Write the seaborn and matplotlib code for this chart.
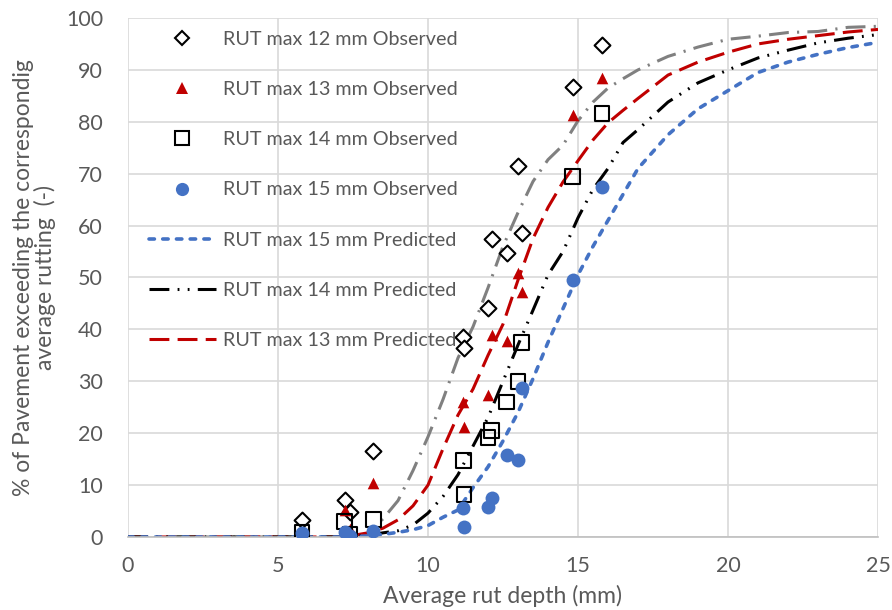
import matplotlib
matplotlib.use("Agg")
import matplotlib.pyplot as plt
from matplotlib.lines import Line2D
import seaborn as sns

# observed points (average rut depth mm, % of pavement exceeding)
obs12_x = [5.8, 7.23, 7.4, 8.17, 11.17, 11.2, 12.0, 12.13, 12.63, 13.0, 13.13, 14.83, 15.8]
obs12_y = [3.3, 7.1, 4.8, 16.6, 38.5, 36.4, 44.1, 57.4, 54.8, 71.5, 58.6, 86.7, 94.8]

obs13_x = [5.8, 7.23, 7.4, 8.17, 11.17, 11.2, 12.0, 12.13, 12.63, 13.0, 13.13, 14.83, 15.8]
obs13_y = [0.5, 5.2, 1.5, 10.4, 26.0, 21.2, 27.4, 39.0, 37.8, 50.9, 47.2, 81.3, 88.4]

obs14_x = [5.8, 7.23, 7.4, 8.17, 11.17, 11.2, 12.0, 12.13, 12.63, 13.0, 13.13, 14.83, 15.8]
obs14_y = [0.8, 2.9, 0.4, 3.3, 14.8, 8.1, 19.1, 20.6, 26.0, 29.9, 37.4, 69.4, 81.6]

obs15_x = [5.8, 7.23, 7.4, 8.17, 11.17, 11.2, 12.0, 12.13, 12.63, 13.0, 13.13, 14.83, 15.8]
obs15_y = [0.8, 1.0, 0.2, 1.2, 5.6, 1.9, 5.7, 7.5, 15.8, 14.9, 28.8, 49.5, 67.4]

# predicted curves
pred_x = [0, 1, 2, 3, 4, 5, 6, 7, 7.5, 8, 8.5, 9, 9.5, 10, 10.5, 11, 11.5, 12, 12.5,
          13, 13.5, 14, 14.5, 15, 15.5, 16, 16.5, 17, 18, 19, 20, 21, 22, 23, 24, 25]
pred12_y = [0, 0, 0, 0, 0, 0, 0, 0, 0.2, 0.6, 3.5, 7.0, 12.8, 19.3, 26.5, 34.5, 40.5, 48.0, 56.0,
            62.5, 68.5, 72.7, 75.5, 80.2, 83.8, 86.5, 88.3, 90.0, 92.6, 94.4, 95.9, 96.5, 97.2, 97.4, 98.2, 98.4]
pred13_y = [0, 0, 0, 0, 0, 0, 0, 0, 0.3, 0.8, 1.7, 3.3, 6.0, 10.0, 17.0, 23.5, 28.5, 35.0, 41.0,
            49.5, 57.5, 63.5, 68.4, 72.5, 76.5, 79.8, 82.2, 84.5, 89.0, 91.5, 93.4, 95.0, 95.9, 96.6, 97.3, 97.8]
pred14_y = [0, 0, 0, 0, 0, 0, 0, 0, 0.1, 0.3, 0.8, 1.2, 2.3, 4.6, 7.8, 12.0, 17.5, 23.0, 30.0,
            37.0, 43.7, 50.5, 55.0, 61.5, 67.0, 71.0, 76.0, 78.5, 83.8, 87.5, 90.0, 92.3, 93.8, 95.2, 96.1, 96.8]
pred15_y = [0, 0, 0, 0, 0, 0, 0, 0, 0.1, 0.2, 0.5, 0.9, 1.4, 2.2, 3.8, 5.2, 9.5, 13.5, 18.5,
            24.0, 30.5, 37.5, 44.0, 50.5, 56.0, 61.0, 66.0, 71.0, 77.5, 82.5, 86.0, 89.5, 91.5, 93.0, 94.3, 95.3]

x_ticks = [0, 5, 10, 15, 20, 25]
y_ticks = [0, 10, 20, 30, 40, 50, 60, 70, 80, 90, 100]

BLUE = "#4472C4"
RED = "#C00000"
GRAY = "#808080"
TXT = "#595959"

sns.set_style("whitegrid")
plt.rcParams["font.family"] = ["Lato", "DejaVu Sans"]

fig = plt.figure(figsize=(8.92, 6.10), dpi=100)
ax = fig.add_axes([0.1435, 0.1197, 0.8408, 0.8508])

ls12 = (0, (6.5, 2.7, 0.7, 2.7))
ls13 = (0, (6.5, 2.7))
ls14 = (0, (6.5, 2.7, 0.6, 2.7, 0.6, 2.7))
ls15 = (0, (1.5, 2.3))

sns.lineplot(x=pred_x, y=pred12_y, ax=ax, color=GRAY, lw=2.2, linestyle=ls12, zorder=2)
sns.lineplot(x=pred_x, y=pred13_y, ax=ax, color=RED, lw=2.2, linestyle=ls13, zorder=2)
sns.lineplot(x=pred_x, y=pred14_y, ax=ax, color="black", lw=2.2, linestyle=ls14, zorder=2)
sns.lineplot(x=pred_x, y=pred15_y, ax=ax, color=BLUE, lw=2.6, linestyle=ls15,
             dash_capstyle="round", zorder=2)

sns.scatterplot(x=obs12_x, y=obs12_y, ax=ax, marker="D", s=65, facecolor="white",
                edgecolor="black", linewidth=1.5, zorder=3)
sns.scatterplot(x=obs13_x, y=obs13_y, ax=ax, marker="^", s=70, color=RED,
                edgecolor=RED, linewidth=0, zorder=3)
sns.scatterplot(x=obs14_x, y=obs14_y, ax=ax, marker="s", s=115, facecolor="none",
                edgecolor="black", linewidth=1.5, zorder=3)
sns.scatterplot(x=obs15_x, y=obs15_y, ax=ax, marker="o", s=100, color=BLUE,
                edgecolor=BLUE, linewidth=0, zorder=3)

ax.set_xlim(0, 25)
ax.set_ylim(0, 100)
ax.set_xticks(x_ticks)
ax.set_yticks(y_ticks)
ax.grid(True, color="#d9d9d9", lw=1.2)
for s in ["top", "right", "left"]:
    ax.spines[s].set_visible(False)
ax.spines["bottom"].set_color("#bfbfbf")
ax.spines["bottom"].set_linewidth(1.2)
ax.tick_params(axis="both", length=0, labelsize=15.5, labelcolor=TXT)
ax.tick_params(axis="x", pad=14)
ax.tick_params(axis="y", pad=18)

ax.set_xlabel("Average rut depth (mm)", fontsize=16.5, color=TXT, labelpad=6)
ax.set_ylabel("% of Pavement exceeding the correspondig\naverage rutting  (-)",
              fontsize=16.5, color=TXT, labelpad=7, linespacing=1.0)

handles = [
    Line2D([], [], ls="none", marker="D", ms=7.5, mfc="white", mec="black", mew=1.5),
    Line2D([], [], ls="none", marker="^", ms=8, mfc=RED, mec=RED, mew=0),
    Line2D([], [], ls="none", marker="s", ms=10, mfc="none", mec="black", mew=1.5),
    Line2D([], [], ls="none", marker="o", ms=9.5, mfc=BLUE, mec=BLUE, mew=0),
    Line2D([], [], color=BLUE, lw=2.6, ls=ls15, dash_capstyle="round"),
    Line2D([], [], color="black", lw=2.2, ls=ls14),
    Line2D([], [], color=RED, lw=2.2, ls=ls13),
]
labels = ["RUT max 12 mm Observed", "RUT max 13 mm Observed", "RUT max 14 mm Observed",
          "RUT max 15 mm Observed", "RUT max 15 mm Predicted", "RUT max 14 mm Predicted",
          "RUT max 13 mm Predicted"]
leg = ax.legend(handles, labels, loc="upper left", bbox_to_anchor=(0.017, 0.99),
                frameon=False, fontsize=14.2, labelcolor=TXT, handlelength=3.4,
                handletextpad=0.35, labelspacing=1.68, borderaxespad=0)

fig.savefig("out.png", dpi=100)
